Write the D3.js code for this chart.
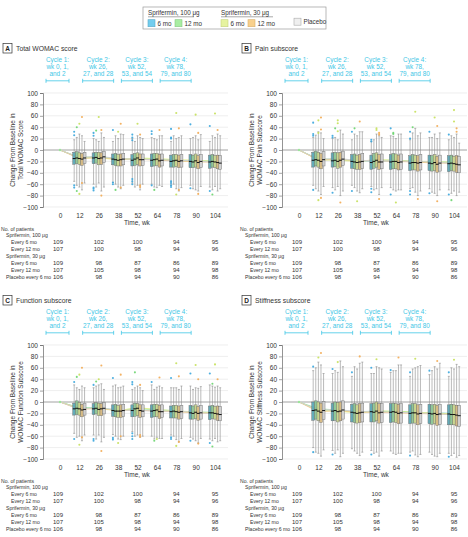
<!DOCTYPE html>
<html><head><meta charset="utf-8">
<script src="https://cdn.jsdelivr.net/npm/d3@7"></script>
<style>body{margin:0;background:#fff}svg{display:block;font-family:"Liberation Sans",Arial,sans-serif}</style>
</head><body>
<svg id="c" width="468" height="537"></svg>
<script>
// ---------- DATA ----------
const weeks = ["0","12","26","38","52","64","78","90","104"];
const groups = ["Sprifermin 100 μg every 6 mo","Sprifermin 100 μg every 12 mo","Sprifermin 30 μg every 6 mo","Sprifermin 30 μg every 12 mo","Placebo every 6 mo"];
const legendDoses = ["Sprifermin, 100 μg","Sprifermin, 30 μg"];
const legendItems = ["6 mo","12 mo","6 mo","12 mo","Placebo"];
const cycles = [
  {week:"0", lines:["Cycle 1:","wk 0, 1,","and 2"]},
  {week:"26", lines:["Cycle 2:","wk 26,","27, and 28"]},
  {week:"52", lines:["Cycle 3:","wk 52,","53, and 54"]},
  {week:"78", lines:["Cycle 4:","wk 78,","79, and 80"]}
];
const yTicks = [-100,-80,-60,-40,-20,0,20,40,60,80,100];
const tableWeeks = ["0","26","52","78","104"];
const tableRows = [
  {label:"No. of patients", indent:0, values:null},
  {label:"Sprifermin, 100 μg", indent:1, values:null},
  {label:"Every 6 mo", indent:2, values:[109,102,100,94,95]},
  {label:"Every 12 mo", indent:2, values:[107,100,98,94,96]},
  {label:"Sprifermin, 30 μg", indent:1, values:null},
  {label:"Every 6 mo", indent:2, values:[109,98,87,86,89]},
  {label:"Every 12 mo", indent:2, values:[107,105,98,94,98]},
  {label:"Placebo every 6 mo", indent:1, values:[106,98,94,90,86]}
];

// Total WOMAC (weeks 12..104, per group)
const totalMedian = [[-15,-14,-16,-18,-18,-20,-20,-21],[-14,-13,-17,-16,-17,-19,-21,-20],[-15,-15,-18,-14,-16,-18,-19,-21],[-16,-14,-17,-17,-19,-20,-22,-22],[-14,-12,-16,-17,-18,-19,-20,-23]];
const totalQ3 = [[-4,-5,-7,-8,-7,-9,-8,-9],[-3,-4,-6,-6,-6,-8,-9,-8],[-5,-4,-8,-5,-6,-8,-7,-10],[-6,-5,-7,-7,-8,-9,-10,-9],[-4,-3,-6,-7,-7,-8,-8,-10]];
const totalQ1 = [[-25,-24,-26,-28,-29,-30,-31,-32],[-24,-23,-27,-27,-28,-30,-31,-30],[-25,-26,-28,-25,-27,-29,-30,-31],[-27,-25,-28,-28,-30,-31,-33,-33],[-24,-22,-26,-27,-28,-30,-31,-34]];
const totalHigh = [[18,20,15,20,22,15,20,15],[22,18,25,15,20,25,22,25],[28,15,20,25,18,20,25,22],[25,30,28,22,25,22,18,28],[15,22,27,20,25,25,27,25]];
const totalLow = [[-55,-60,-57,-58,-60,-62,-62,-65],[-62,-65,-60,-65,-65,-60,-68,-70],[-65,-58,-65,-62,-66,-68,-70,-64],[-70,-72,-68,-70,-62,-72,-72,-72],[-58,-65,-62,-60,-64,-66,-64,-68]];
const totalMean = [[0,-14,-13,-16,-16,-17,-19,-19,-20],[0,-13,-12,-16,-15,-16,-18,-20,-19],[0,-14,-14,-17,-14,-15,-17,-18,-20],[0,-15,-13,-16,-16,-18,-19,-21,-21],[0,-13,-11,-15,-16,-17,-18,-19,-22]];
const totalOutliers = [[1,0,32],[1,0,26],[1,2,46],[1,3,58],[1,1,40],[1,0,-62],[1,0,-66],[1,3,-58],[1,2,-77],[1,1,-72],
 [2,0,30],[2,0,25],[2,3,35],[2,1,34],[2,2,58],[2,0,-66],[2,0,-68],[2,0,-71],[2,3,-80],
 [3,0,35],[3,2,32],[3,3,46],[3,0,-57],[3,0,-60],[3,1,-70],[3,3,-66],
 [4,0,27],[4,0,22],[4,0,17],[4,2,46],[4,3,27],[4,0,-51],[4,0,-55],[4,0,-60],[4,3,-62],[4,3,-65],
 [5,0,33],[5,0,28],[5,3,35],[5,0,-62],[5,1,-70],
 [6,0,37],[6,0,22],[6,0,20],[6,2,65],[6,3,38],[6,0,-55],[6,0,-58],[6,0,-62],[6,0,-65],[6,3,-70],[6,2,-78],
 [7,0,45],[7,2,62],[7,3,30],[7,0,-67],[7,3,-77],
 [8,0,42],[8,2,64],[8,3,35],[8,0,-72],[8,1,-78]];

// Pain
const painMedian = [[-18,-19,-20,-22,-21,-23,-23,-24],[-17,-18,-21,-20,-20,-22,-24,-23],[-18,-20,-22,-18,-20,-22,-22,-24],[-20,-18,-21,-21,-22,-23,-25,-25],[-17,-16,-20,-21,-21,-22,-23,-26]];
const painQ3 = [[-4,-5,-8,-9,-8,-10,-9,-10],[-2,-4,-7,-6,-6,-8,-10,-9],[-4,-5,-9,-5,-7,-9,-8,-11],[-6,-4,-8,-8,-9,-10,-11,-10],[-3,-2,-6,-7,-7,-8,-9,-11]];
const painQ1 = [[-30,-30,-32,-34,-34,-36,-36,-38],[-28,-29,-33,-32,-33,-35,-37,-36],[-30,-32,-34,-30,-33,-35,-36,-37],[-33,-30,-34,-34,-35,-37,-39,-39],[-28,-27,-32,-33,-34,-35,-37,-40]];
const painHigh = [[22,20,18,15,25,18,22,18],[26,22,28,18,24,30,22,25],[32,18,25,28,20,38,28,22],[30,35,32,25,28,25,20,28],[20,28,32,22,28,30,30,12]];
const painLow = [[-62,-66,-62,-64,-66,-68,-68,-70],[-68,-70,-66,-70,-70,-66,-74,-76],[-72,-64,-72,-68,-72,-74,-76,-72],[-78,-80,-75,-78,-70,-80,-80,-80],[-64,-72,-68,-66,-70,-72,-70,-74]];
const painMean = [[0,-17,-17,-19,-20,-19,-21,-21,-22],[0,-16,-16,-19,-18,-18,-20,-22,-21],[0,-17,-18,-20,-17,-18,-20,-20,-22],[0,-18,-16,-19,-19,-20,-21,-23,-23],[0,-16,-15,-18,-19,-19,-20,-21,-24]];
const painOutliers = [[1,3,57],[1,2,52],[1,0,48],[1,3,36],[1,2,30],[1,0,28],[1,0,25],[1,0,-70],[1,3,-84],[1,2,-88],
 [2,2,52],[2,2,47],[2,1,38],[2,2,33],[2,0,25],[2,0,22],[2,0,-75],[2,3,-92],
 [3,1,38],[3,0,32],[3,3,50],[3,0,-72],[3,2,-90],
 [4,2,38],[4,2,35],[4,3,30],[4,3,27],[4,0,18],[4,0,15],[4,0,-68],[4,0,-74],[4,3,-86],
 [5,0,38],[5,1,30],[5,1,28],[5,0,-78],[5,2,-92],
 [6,2,67],[6,0,32],[6,0,20],[6,1,40],[6,0,-72],[6,0,-78],[6,3,-86],
 [7,0,32],[7,2,57],[7,3,42],[7,0,-76],[7,3,-90],
 [8,2,70],[8,3,38],[8,3,32],[8,0,27],[8,2,50],[8,0,-78],[8,1,-88]];

// Function
const funcMedian = [[-12,-12,-15,-15,-16,-17,-19,-19],[-11,-11,-16,-12,-15,-16,-20,-19],[-12,-13,-16,-11,-14,-17,-18,-20],[-14,-12,-16,-15,-17,-18,-20,-21],[-13,-11,-15,-16,-17,-17,-19,-22]];
const funcQ3 = [[-2,-3,-5,-5,-5,-7,-6,-7],[2,-1,-4,-2,-4,-6,-7,-6],[-1,-2,-6,-3,-4,-6,-5,-8],[-4,-3,-5,-5,-6,-7,-8,-7],[-2,-1,-4,-5,-5,-6,-6,-8]];
const funcQ1 = [[-23,-22,-25,-26,-27,-28,-30,-31],[-22,-21,-26,-25,-26,-28,-30,-29],[-23,-24,-27,-24,-26,-28,-29,-30],[-26,-24,-27,-27,-29,-30,-32,-32],[-23,-21,-25,-26,-27,-29,-30,-33]];
const funcHigh = [[30,25,28,22,30,25,28,30],[25,28,30,25,22,25,22,28],[22,30,25,28,26,25,25,26],[28,32,26,25,28,22,24,28],[25,22,28,20,25,28,27,25]];
const funcLow = [[-55,-58,-57,-52,-60,-58,-62,-65],[-62,-65,-60,-60,-65,-60,-65,-68],[-60,-58,-65,-58,-62,-66,-68,-64],[-68,-70,-66,-62,-64,-70,-72,-70],[-58,-62,-60,-60,-64,-64,-64,-68]];
const funcMean = [[0,-11,-11,-14,-14,-15,-16,-18,-18],[0,-10,-10,-15,-11,-14,-15,-19,-18],[0,-11,-12,-15,-10,-13,-16,-17,-19],[0,-13,-11,-15,-14,-16,-17,-19,-20],[0,-12,-10,-14,-15,-16,-16,-18,-21]];
const funcOutliers = [[1,0,35],[1,2,48],[1,3,60],[1,1,44],[1,0,-65],[1,3,-62],[1,2,-75],
 [2,0,30],[2,3,64],[2,2,40],[2,1,36],[2,0,-65],[2,0,-68],[2,3,-86],
 [3,0,42],[3,3,48],[3,0,-63],[3,0,-66],[3,3,-60],[3,2,-72],
 [4,0,35],[4,0,31],[4,1,52],[4,3,30],[4,0,-55],[4,0,-60],[4,0,-65],[4,3,-58],[4,3,-61],
 [5,0,35],[5,3,43],[5,1,-68],[5,2,-65],
 [6,0,42],[6,2,68],[6,3,45],[6,0,-62],[6,0,-65],[6,3,-70],[6,2,-77],
 [7,0,50],[7,2,65],[7,3,40],[7,3,-73],[7,0,-68],
 [8,0,50],[8,2,66],[8,3,40],[8,1,32],[8,0,-72],[8,1,-78]];

// Stiffness
const stiffMedian = [[-15,-16,-18,-17,-18,-20,-20,-21],[-14,-15,-19,-18,-17,-19,-21,-22],[-16,-17,-20,-16,-18,-19,-20,-22],[-18,-16,-19,-19,-20,-21,-22,-23],[-15,-14,-18,-18,-19,-20,-21,-24]];
const stiffQ3 = [[0,-2,-4,-3,-3,-5,-4,-5],[2,0,-3,-2,-2,-3,-5,-4],[0,-1,-5,0,-3,-3,-4,-5],[-2,0,-3,-3,-4,-5,-6,-6],[1,2,-2,-3,-3,-4,-4,-6]];
const stiffQ1 = [[-32,-33,-35,-35,-36,-38,-38,-40],[-30,-32,-36,-35,-35,-37,-39,-40],[-33,-35,-37,-33,-36,-37,-38,-40],[-36,-33,-36,-37,-38,-40,-41,-42],[-31,-30,-35,-36,-37,-38,-39,-43]];
const stiffHigh = [[55,50,45,50,52,45,48,45],[60,55,62,50,55,58,55,60],[70,52,58,62,55,60,62,58],[65,72,68,60,65,62,58,66],[50,62,70,58,65,64,68,62]];
const stiffLow = [[-80,-85,-82,-85,-86,-88,-88,-90],[-88,-90,-86,-90,-90,-86,-92,-94],[-90,-84,-90,-88,-92,-93,-95,-90],[-95,-96,-94,-95,-90,-96,-96,-97],[-84,-90,-88,-86,-90,-92,-90,-94]];
const stiffMean = [[0,-14,-15,-17,-16,-17,-19,-19,-20],[0,-12,-14,-18,-17,-16,-18,-20,-21],[0,-15,-16,-19,-15,-17,-18,-19,-21],[0,-17,-15,-18,-18,-19,-20,-21,-22],[0,-14,-13,-17,-17,-18,-19,-20,-23]];
const stiffOutliers = [[1,3,86],[1,2,78],[1,0,62],[1,0,-88],[2,2,70],[2,0,58],[2,0,-92],[3,3,80],[3,0,52],
 [4,2,75],[4,0,60],[4,0,-92],[5,3,78],[5,0,56],[6,2,76],[6,0,52],[6,0,-94],[7,3,72],[7,0,55],[8,2,74],[8,0,52],[8,0,-96]];

const panels = [
  {letter:"A", title:"Total WOMAC score", ylab:["Change From Baseline in","Total WOMAC Score"], med:totalMedian,q1:totalQ1,q3:totalQ3,hi:totalHigh,lo:totalLow,mean:totalMean,out:totalOutliers, ox:0, oy:0},
  {letter:"B", title:"Pain subscore", ylab:["Change From Baseline in","WOMAC Pain Subscore"], med:painMedian,q1:painQ1,q3:painQ3,hi:painHigh,lo:painLow,mean:painMean,out:painOutliers, ox:239, oy:0},
  {letter:"C", title:"Function subscore", ylab:["Change From Baseline in","WOMAC Function Subscore"], med:funcMedian,q1:funcQ1,q3:funcQ3,hi:funcHigh,lo:funcLow,mean:funcMean,out:funcOutliers, ox:0, oy:252},
  {letter:"D", title:"Stiffness subscore", ylab:["Change From Baseline in","WOMAC Stiffness Subscore"], med:stiffMedian,q1:stiffQ1,q3:stiffQ3,hi:stiffHigh,lo:stiffLow,mean:stiffMean,out:stiffOutliers, ox:239, oy:252}
];

// ---------- STYLE ----------
const swatch = ["#72cdee","#a8eda2","#e6f3a0","#f8d08c","#efefef"];
const swatchStroke = ["#5aa9c6","#86c884","#c5d27e","#d8ae6c","#aaaaaa"];
const boxFill = ["#55a5b5","#88c892","#cad888","#d8b97c","#d0d0d0"];
const meanCol = ["#7fd3ef","#9be69a","#e2f08a","#f3c98a","#cfcfcf"];
const dotCol = ["#3aa6dd","#6ad46e","#c5e05a","#f2aa52","#bdbdbd"];
const cyan = "#3fc7e6";
const txt = "#333";

const svg = d3.select("#c");

// ---------- LEGEND ----------
const lg = svg.append("g");
lg.append("rect").attr("x",143).attr("y",7).attr("width",183).attr("height",22).attr("fill","none").attr("stroke","#9a9a9a").attr("stroke-width",0.7);
const doseX = [148,221];
legendDoses.forEach((d,i)=>{
  lg.append("text").attr("x",doseX[i]).attr("y",14.5).attr("font-size",6.3).attr("fill",txt).text(d);
  lg.append("line").attr("x1",doseX[i]).attr("x2",doseX[i]+(i===0?46:52)).attr("y1",16.8).attr("y2",16.8).attr("stroke","#555").attr("stroke-width",0.5);
});
const swX = [148,175,221,248,294];
const swY = [19.7,19.7,19.7,19.7,18.2];
legendItems.forEach((t,i)=>{
  lg.append("rect").attr("x",swX[i]).attr("y",swY[i]).attr("width",7).attr("height",7).attr("fill",swatch[i]).attr("stroke",swatchStroke[i]).attr("stroke-width",0.6);
  lg.append("text").attr("x",swX[i]+9.5).attr("y",swY[i]+6).attr("font-size",6.3).attr("fill",txt).text(t);
});

// ---------- PANELS ----------
const x = d3.scalePoint().domain(weeks).range([60,215]);
const y = d3.scaleLinear().domain([-100,100]).range([207,93]);
const gOff = [-5.2,-2.6,0,2.6,5.2];
const bw = 2.9;

panels.forEach(p=>{
  const g = svg.append("g").attr("transform",`translate(${p.ox},${p.oy})`);
  // label
  g.append("rect").attr("x",3).attr("y",43.5).attr("width",9).attr("height",9.5).attr("fill","none").attr("stroke","#333").attr("stroke-width",0.7);
  g.append("text").attr("x",7.5).attr("y",51).attr("text-anchor","middle").attr("font-size",6.5).attr("font-weight","bold").attr("fill","#222").text(p.letter);
  g.append("text").attr("x",16).attr("y",51).attr("font-size",6.8).attr("fill",txt).text(p.title);

  // cycles
  const cw = [23,31,31,31];
  cycles.forEach((c,i)=>{
    const cx = x(c.week) - (i===0?2.5:0.6);
    c.lines.forEach((l,j)=>{
      g.append("text").attr("x",cx).attr("y",61.5+j*7.3).attr("text-anchor","middle").attr("font-size",6.4).attr("fill",cyan).text(l);
    });
    const x1 = cx-cw[i]/2, x2 = cx+cw[i]/2;
    g.append("line").attr("x1",x1).attr("x2",x2).attr("y1",80.8).attr("y2",80.8).attr("stroke",cyan).attr("stroke-width",0.8);
    [x1,x2].forEach(xx=>g.append("line").attr("x1",xx).attr("x2",xx).attr("y1",78.8).attr("y2",82.8).attr("stroke",cyan).attr("stroke-width",0.8));
  });

  // grid
  yTicks.forEach(t=>{
    g.append("line").attr("x1",43).attr("x2",228).attr("y1",y(t)).attr("y2",y(t))
      .attr("stroke", t===0?"#8a8a8a":"#e2e2e2").attr("stroke-width", t===0?0.8:0.6);
  });
  // y axis
  const ya = g.append("g").attr("transform","translate(43,0)").call(d3.axisLeft(y).tickValues(yTicks).tickSize(3).tickPadding(2));
  ya.select(".domain").attr("stroke","#666").attr("stroke-width",0.7);
  ya.selectAll(".tick line").attr("stroke","#666").attr("stroke-width",0.6);
  ya.selectAll("text").attr("font-size",6.5).attr("fill",txt).attr("font-family","Liberation Sans, Arial, sans-serif");
  // x axis labels
  const xa = g.append("g").attr("transform","translate(0,207)").call(d3.axisBottom(x).tickSize(0).tickPadding(6));
  xa.select(".domain").remove();
  xa.selectAll("text").attr("font-size",6.5).attr("fill",txt).attr("font-family","Liberation Sans, Arial, sans-serif");
  g.append("text").attr("x",137).attr("y",224.5).attr("text-anchor","middle").attr("font-size",6.5).attr("fill",txt).text("Time, wk");
  // y label
  p.ylab.forEach((l,j)=>{
    g.append("text").attr("transform",`translate(${15+j*7.5},150) rotate(-90)`).attr("text-anchor","middle").attr("font-size",6.5).attr("fill",txt).text(l);
  });

  // mean lines
  const line = d3.line().x((d,i)=>x(weeks[i])).y(d=>y(d));
  p.mean.forEach((m,gi)=>{
    g.append("path").attr("d",line(m)).attr("fill","none").attr("stroke",meanCol[gi]).attr("stroke-width",1).attr("opacity",0.9);
  });
  g.append("circle").attr("cx",x("0")).attr("cy",y(0)).attr("r",1.2).attr("fill",meanCol[1]);

  // whiskers
  for(let gi=0;gi<5;gi++){
    for(let t=0;t<8;t++){
      const cx = x(weeks[t+1]) + gOff[gi];
      const lo=p.lo[gi][t], hi=p.hi[gi][t];
      g.append("line").attr("x1",cx).attr("x2",cx).attr("y1",y(hi)).attr("y2",y(lo)).attr("stroke","#8c8c8c").attr("stroke-width",0.6);
      [hi,lo].forEach(v=>g.append("line").attr("x1",cx-1).attr("x2",cx+1).attr("y1",y(v)).attr("y2",y(v)).attr("stroke","#8c8c8c").attr("stroke-width",0.6));
    }
  }
  // boxes
  for(let gi=0;gi<5;gi++){
    for(let t=0;t<8;t++){
      const cx = x(weeks[t+1]) + gOff[gi];
      const q1=p.q1[gi][t], q3=p.q3[gi][t];
      g.append("rect").attr("x",cx-bw/2).attr("y",y(q3)).attr("width",bw).attr("height",y(q1)-y(q3))
        .attr("fill",boxFill[gi]).attr("fill-opacity",0.9).attr("stroke","#6f6f6f").attr("stroke-width",0.45);
    }
  }
  // medians
  for(let gi=0;gi<5;gi++){
    for(let t=0;t<8;t++){
      const cx = x(weeks[t+1]) + gOff[gi];
      g.append("line").attr("x1",cx-bw/2).attr("x2",cx+bw/2).attr("y1",y(p.med[gi][t])).attr("y2",y(p.med[gi][t])).attr("stroke","#111").attr("stroke-width",1);
    }
  }
  // outliers
  p.out.forEach(o=>{
    g.append("circle").attr("cx",x(weeks[o[0]])+gOff[o[1]]).attr("cy",y(o[2])).attr("r",1.05).attr("fill",dotCol[o[1]]).attr("opacity",0.9);
  });

  // table
  const rowY0 = 230.5, rowDy = 6.95;
  tableRows.forEach((r,i)=>{
    const yy = rowY0 + i*rowDy;
    const lx = 1+r.indent*5;
    g.append("text").attr("transform",`translate(${lx},${yy}) scale(0.84,1)`).attr("font-size",6.1).attr("fill",txt).text(r.label);
    if(r.values){
      r.values.forEach((v,k)=>{
        g.append("text").attr("x",x(tableWeeks[k])-(k===0?2:0)).attr("y",yy).attr("text-anchor","middle").attr("font-size",6).attr("fill",txt).text(v);
      });
    }
  });
});
</script>
</body></html>
